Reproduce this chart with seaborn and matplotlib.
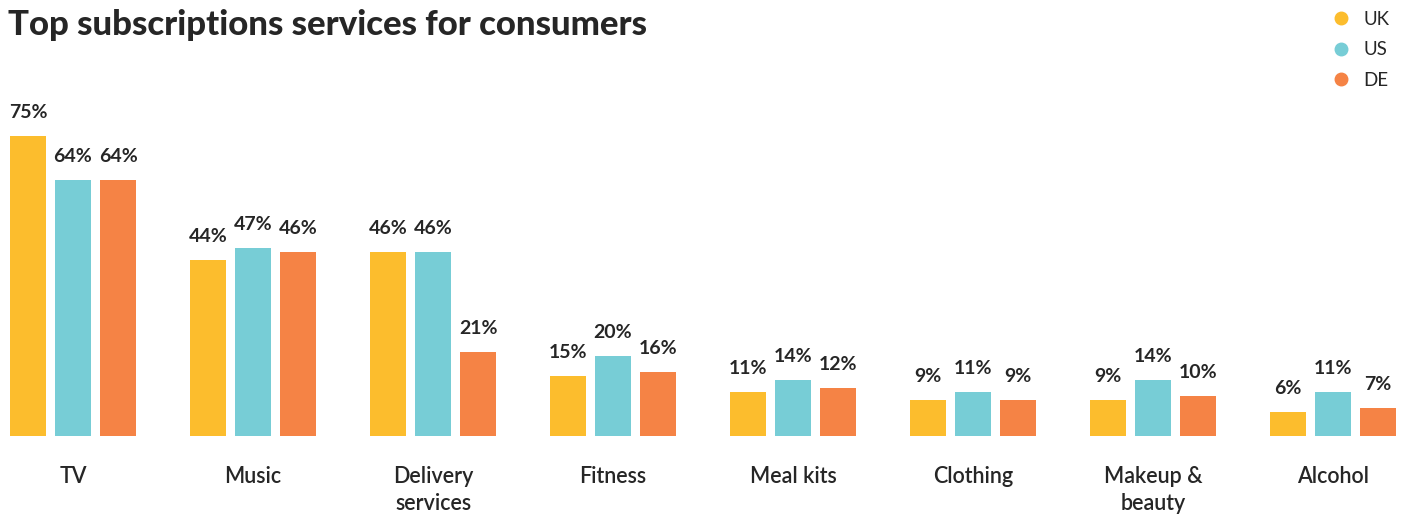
import matplotlib
matplotlib.use("Agg")
import matplotlib.pyplot as plt
from matplotlib.lines import Line2D
import seaborn as sns
import pandas as pd

categories = ["TV", "Music", "Delivery\nservices", "Fitness", "Meal kits",
              "Clothing", "Makeup &\nbeauty", "Alcohol"]
countries = ["UK", "US", "DE"]
uk = [75, 44, 46, 15, 11, 9, 9, 6]
us = [64, 47, 46, 20, 14, 11, 14, 11]
de = [64, 46, 21, 16, 12, 9, 10, 7]
colors = ["#FCBD2D", "#77CDD6", "#F58345"]
title = "Top subscriptions services for consumers"

rows = []
for country, vals in zip(countries, [uk, us, de]):
    for cat, v in zip(categories, vals):
        rows.append({"category": cat, "country": country, "share": v})
df = pd.DataFrame(rows)

sns.set_theme(style="white")
plt.rcParams["font.family"] = ["Lato", "DejaVu Sans"]
text_color = "#262626"

W, H = 1410, 515
fig = plt.figure(figsize=(W / 100, H / 100), dpi=100)
base_px = 436
ax = fig.add_axes([0, (H - base_px) / H, 1, base_px / H])

sns.barplot(data=df, x="category", y="share", hue="country",
            order=categories, hue_order=countries, palette=colors,
            width=0.75, gap=0.2, saturation=1, legend=False,
            linewidth=0, ax=ax)

# pixel-scale positioning: group step 180 px, first group centred at 73 px
ax.set_xlim(-73 / 180, (W - 73) / 180)
ax.set_ylim(0, base_px / 4)

for container in ax.containers:
    ax.bar_label(container, labels=[f"{int(v)}%" for v in container.datavalues],
                 padding=11, fontsize=14, fontweight="bold", color=text_color)

ax.set_xlabel("")
ax.set_ylabel("")
ax.set_yticks([])
ax.tick_params(axis="x", length=0, pad=21.5, labelsize=15.5, labelcolor=text_color)
for lbl in ax.get_xticklabels():
    lbl.set_linespacing(1.35)
    lbl.set_verticalalignment("top")
    lbl.set_fontweight("semibold")
for s in ax.spines.values():
    s.set_visible(False)

fig.text(8 / W, 1 - 25 / H, title, fontsize=25, fontweight="black",
         color=text_color, va="center", ha="left")

handles = [Line2D([0], [0], marker="o", linestyle="", markersize=9,
                  markerfacecolor=c, markeredgecolor=c) for c in colors]
fig.legend(handles, countries, loc="upper right",
           bbox_to_anchor=(1395 / W, 1 - 5 / H),
           frameon=False, handletextpad=0.7, labelspacing=0.72,
           handlelength=1.0, labelcolor=text_color, borderaxespad=0.3,
           borderpad=0.0, prop={"size": 13.5})

fig.savefig("out.png", dpi=100)
